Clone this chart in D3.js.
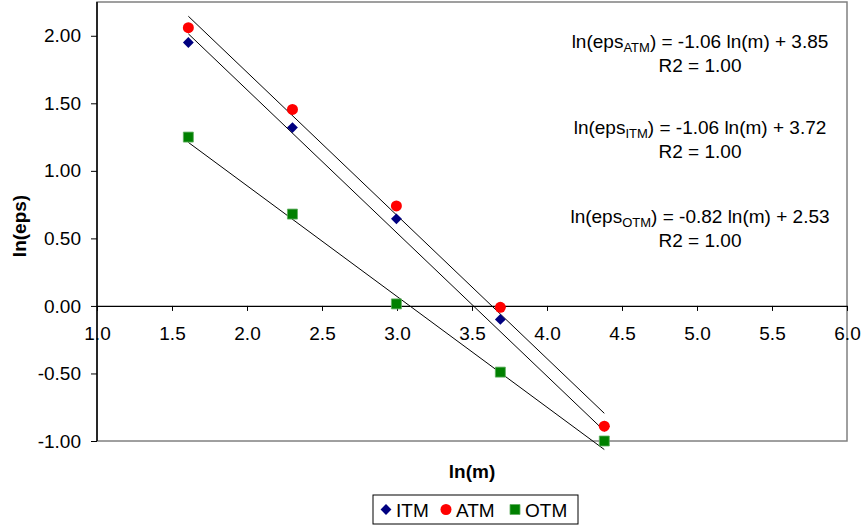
<!DOCTYPE html>
<html>
<head>
  <meta charset="utf-8">
  <script src="https://d3js.org/d3.v7.min.js"></script>
  <style>
    body { margin: 0; background: #fff; }
    text { font-family: "Liberation Sans", Arial, sans-serif; fill: #000; }
  </style>
</head>
<body>
  <script>
    var width = 863, height = 528;

    // ln(m) for m = 5, 10, 20, 40, 80
    var lnM = [1.609, 2.303, 2.996, 3.689, 4.382];
    var itm = [1.95, 1.32, 0.645, -0.10, -0.89];
    var atm = [2.06, 1.455, 0.74, -0.01, -0.89];
    var otm = [1.25, 0.68, 0.015, -0.49, -1.00];

    var xTicks = [1.0, 1.5, 2.0, 2.5, 3.0, 3.5, 4.0, 4.5, 5.0, 5.5, 6.0];
    var yTicks = [-1.0, -0.5, 0.0, 0.5, 1.0, 1.5, 2.0];

    // trend lines: slope, intercept
    var fits = [
      {name: "ATM", slope: -1.06, icpt: 3.85},
      {name: "ITM", slope: -1.06, icpt: 3.72},
      {name: "OTM", slope: -0.82, icpt: 2.53}
    ];

    var svg = d3.select("body").append("svg")
        .attr("width", width)
        .attr("height", height);

    var x = d3.scaleLinear().domain([1, 6]).range([97, 847]);
    var y = d3.scaleLinear().domain([-1, 2.25]).range([441, 2]);

    var hy = function(f) { return function(d) { return d3.format(f)(d).replace("\u2212", "-"); }; };

    // plot area border
    svg.append("rect")
        .attr("x", x(1)).attr("y", y(2.25))
        .attr("width", x(6) - x(1)).attr("height", y(-1) - y(2.25))
        .attr("fill", "none").attr("stroke", "#808080").attr("stroke-width", 1.5);

    // y axis
    var yAxis = svg.append("g")
        .attr("transform", "translate(" + x(1) + ",0)")
        .call(d3.axisLeft(y).tickValues(yTicks).tickSize(6).tickPadding(10)
          .tickFormat(hy(".2f")).tickSizeOuter(0));
    yAxis.select(".domain").attr("stroke", "#000").attr("stroke-width", 1.5)
        .attr("d", "M0," + y(2.25) + "V" + y(-1));
    yAxis.selectAll("text").style("font-size", "19px").attr("font-family", null);

    // x axis at y = 0
    var xAxis = svg.append("g")
        .attr("transform", "translate(0," + y(0) + ")")
        .call(d3.axisBottom(x).tickValues(xTicks).tickSize(5)
          .tickFormat(hy(".1f")).tickSizeOuter(0));
    xAxis.select(".domain").attr("stroke", "#000").attr("stroke-width", 1.2);
    xAxis.selectAll("text").style("font-size", "19px").attr("font-family", null)
        .attr("y", 34).attr("dy", null);

    // trend lines
    fits.forEach(function(f) {
      svg.append("line")
          .attr("x1", x(lnM[0])).attr("y1", y(f.slope * lnM[0] + f.icpt))
          .attr("x2", x(lnM[4])).attr("y2", y(f.slope * lnM[4] + f.icpt))
          .attr("stroke", "#000").attr("stroke-width", 1);
    });

    var diamond = d3.symbol().type(d3.symbolDiamond2).size(75);
    var square = d3.symbol().type(d3.symbolSquare).size(100);

    svg.selectAll(".otm").data(otm).enter().append("path")
        .attr("d", square)
        .attr("transform", function(d, i) { return "translate(" + x(lnM[i]) + "," + y(d) + ")"; })
        .attr("fill", "#008000").attr("stroke", "#5fae5f").attr("stroke-width", 0.8);

    svg.selectAll(".itm").data(itm).enter().append("path")
        .attr("d", diamond)
        .attr("transform", function(d, i) { return "translate(" + x(lnM[i]) + "," + y(d) + ")"; })
        .attr("fill", "#000080");

    svg.selectAll(".atm").data(atm).enter().append("circle")
        .attr("cx", function(d, i) { return x(lnM[i]); })
        .attr("cy", function(d) { return y(d); })
        .attr("r", 5.5)
        .attr("fill", "#ff0000");

    // equations
    var eqs = [
      {sub: "ATM", txt: ") = -1.06 ln(m) + 3.85", y: 48},
      {sub: "ITM", txt: ") = -1.06 ln(m) + 3.72", y: 134},
      {sub: "OTM", txt: ") = -0.82 ln(m) + 2.53", y: 223}
    ];
    eqs.forEach(function(e) {
      var t = svg.append("text").attr("x", 700).attr("y", e.y)
          .attr("text-anchor", "middle").style("font-size", "19px");
      t.append("tspan").text("ln(eps");
      t.append("tspan").text(e.sub).attr("dy", 4).style("font-size", "13px");
      t.append("tspan").text(e.txt).attr("dy", -4);
      svg.append("text").attr("x", 700).attr("y", e.y + 24)
          .attr("text-anchor", "middle").style("font-size", "19px")
          .text("R2 = 1.00");
    });

    // axis titles
    svg.append("text")
        .attr("transform", "translate(26,226) rotate(-90)")
        .attr("text-anchor", "middle")
        .style("font-size", "19px").style("font-weight", "bold")
        .text("ln(eps)");
    svg.append("text")
        .attr("x", 472).attr("y", 478)
        .attr("text-anchor", "middle")
        .style("font-size", "19px").style("font-weight", "bold")
        .text("ln(m)");

    // legend
    var lg = svg.append("g");
    lg.append("rect").attr("x", 373).attr("y", 495).attr("width", 205).attr("height", 29)
        .attr("fill", "#fff").attr("stroke", "#000").attr("stroke-width", 1);
    lg.append("path").attr("d", diamond).attr("transform", "translate(386,509.5)").attr("fill", "#000080");
    lg.append("text").attr("x", 396).attr("y", 516.5).style("font-size", "19px").text("ITM");
    lg.append("circle").attr("cx", 446).attr("cy", 509.5).attr("r", 5.5).attr("fill", "#ff0000");
    lg.append("text").attr("x", 456).attr("y", 516.5).style("font-size", "19px").text("ATM");
    lg.append("path").attr("d", square).attr("transform", "translate(515,509.5)")
        .attr("fill", "#008000").attr("stroke", "#5fae5f").attr("stroke-width", 0.8);
    lg.append("text").attr("x", 525).attr("y", 516.5).style("font-size", "19px").text("OTM");
  </script>
</body>
</html>
